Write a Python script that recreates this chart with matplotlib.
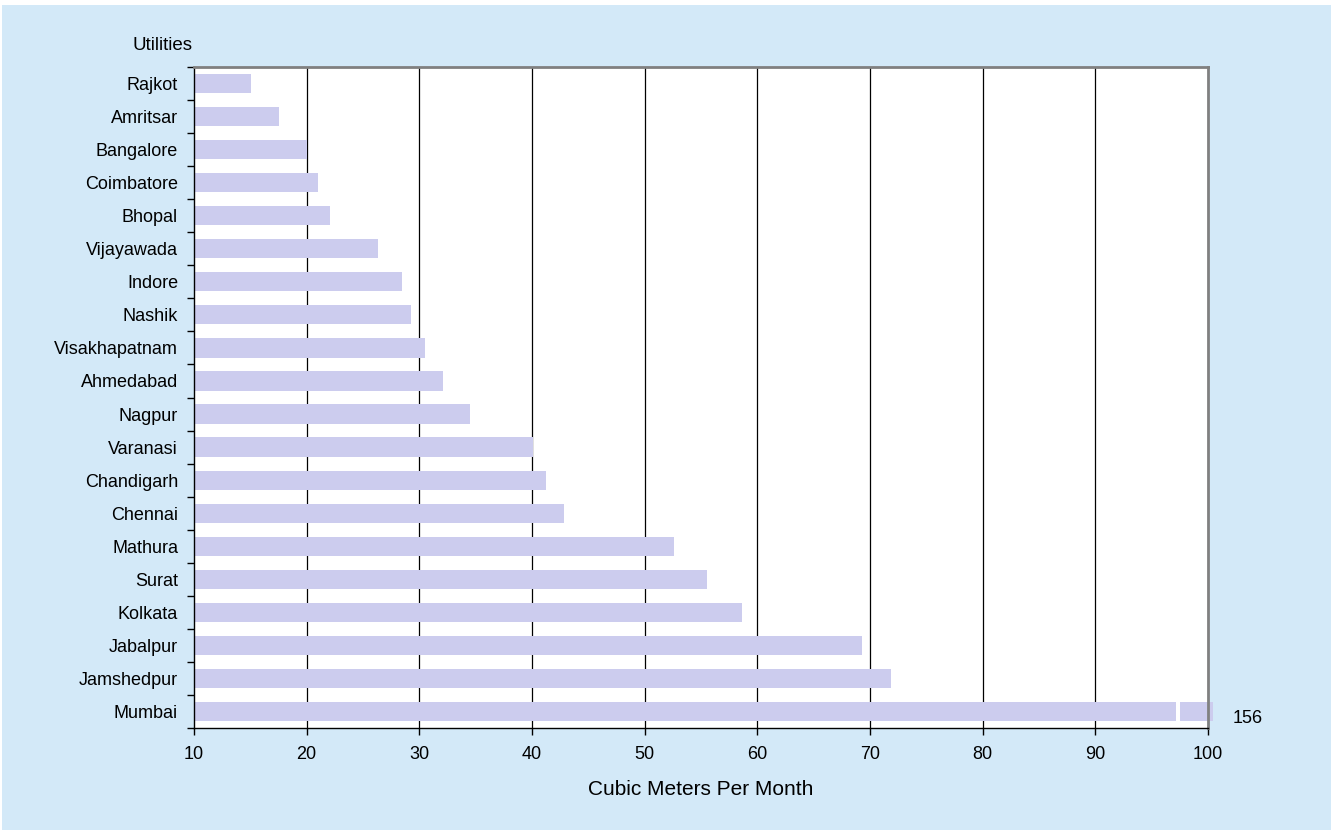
import numpy as np
import matplotlib.pyplot as plt
from matplotlib.patches import Rectangle

plt.rcParams['font.family'] = ['Liberation Sans', 'DejaVu Sans']

# Du lieu: luong nuoc tieu thu theo thanh pho
cities = ['Rajkot', 'Amritsar', 'Bangalore', 'Coimbatore', 'Bhopal', 'Vijayawada',
          'Indore', 'Nashik', 'Visakhapatnam', 'Ahmedabad', 'Nagpur', 'Varanasi',
          'Chandigarh', 'Chennai', 'Mathura', 'Surat', 'Kolkata', 'Jabalpur',
          'Jamshedpur', 'Mumbai']
values = [15.1, 17.5, 20.0, 21.0, 22.1, 26.3, 28.5, 29.3, 30.5, 32.1, 34.5, 40.1,
          41.2, 42.8, 52.6, 55.5, 58.6, 69.3, 71.9, 156]
xticks = [10, 20, 30, 40, 50, 60, 70, 80, 90, 100]

W, H = 1331, 832
fig = plt.figure(figsize=(W / 100, H / 100), dpi=100)
fig.patch.set_facecolor('white')
fig.patches.append(Rectangle((2 / W, 2 / H), 1, 1 - 7 / H, transform=fig.transFigure,
                             facecolor='#d3e9f8', edgecolor='none', zorder=-5))

ax = fig.add_axes([194 / W, 1 - 728 / H, (1208 - 194) / W, (728 - 67) / H])
ax.set_facecolor('white')

xmax = 100
cap = 100.4
y = np.arange(len(cities))
shown = [min(v, cap) for v in values]
ax.barh(y, [s - 10 for s in shown], left=10, height=0.58, color='#ccccee',
        zorder=2, clip_on=False)

# vach ngat cho thanh Mumbai
for i, v in enumerate(values):
    if v > xmax:
        ax.add_patch(Rectangle((97.2, i - 0.32), 0.28, 0.64, facecolor='white',
                               edgecolor='none', zorder=3, clip_on=False))
        ax.text(103.5, i + 0.22, str(int(v)), fontsize=13, ha='center', va='center')

ax.set_xlim(10, xmax)
ax.set_ylim(len(cities) - 0.5, -0.5)
ax.set_xticks(xticks)
ax.set_xticklabels([str(t) for t in xticks], fontsize=13)
ax.set_yticks(y)
ax.set_yticklabels(cities, fontsize=13)
ax.tick_params(axis='y', length=0, pad=11.5)
ax.set_yticks(np.arange(len(cities) + 1) - 0.5, minor=True)
ax.tick_params(axis='y', which='minor', length=5, width=1, direction='out')
ax.tick_params(axis='x', length=5, width=1, direction='out', pad=8)

for t in xticks[1:-1]:
    ax.axvline(t, color='black', lw=0.9, zorder=1)

for s in ['top', 'right']:
    ax.spines[s].set_color('#808080')
    ax.spines[s].set_linewidth(2)
for s in ['left', 'bottom']:
    ax.spines[s].set_color('black')
    ax.spines[s].set_linewidth(1)

ax.set_xlabel('Cubic Meters Per Month', fontsize=15, labelpad=12)
fig.text(163 / W, 1 - 45 / H, 'Utilities', fontsize=13.5, ha='center', va='center')

fig.savefig('out.png', dpi=100)
